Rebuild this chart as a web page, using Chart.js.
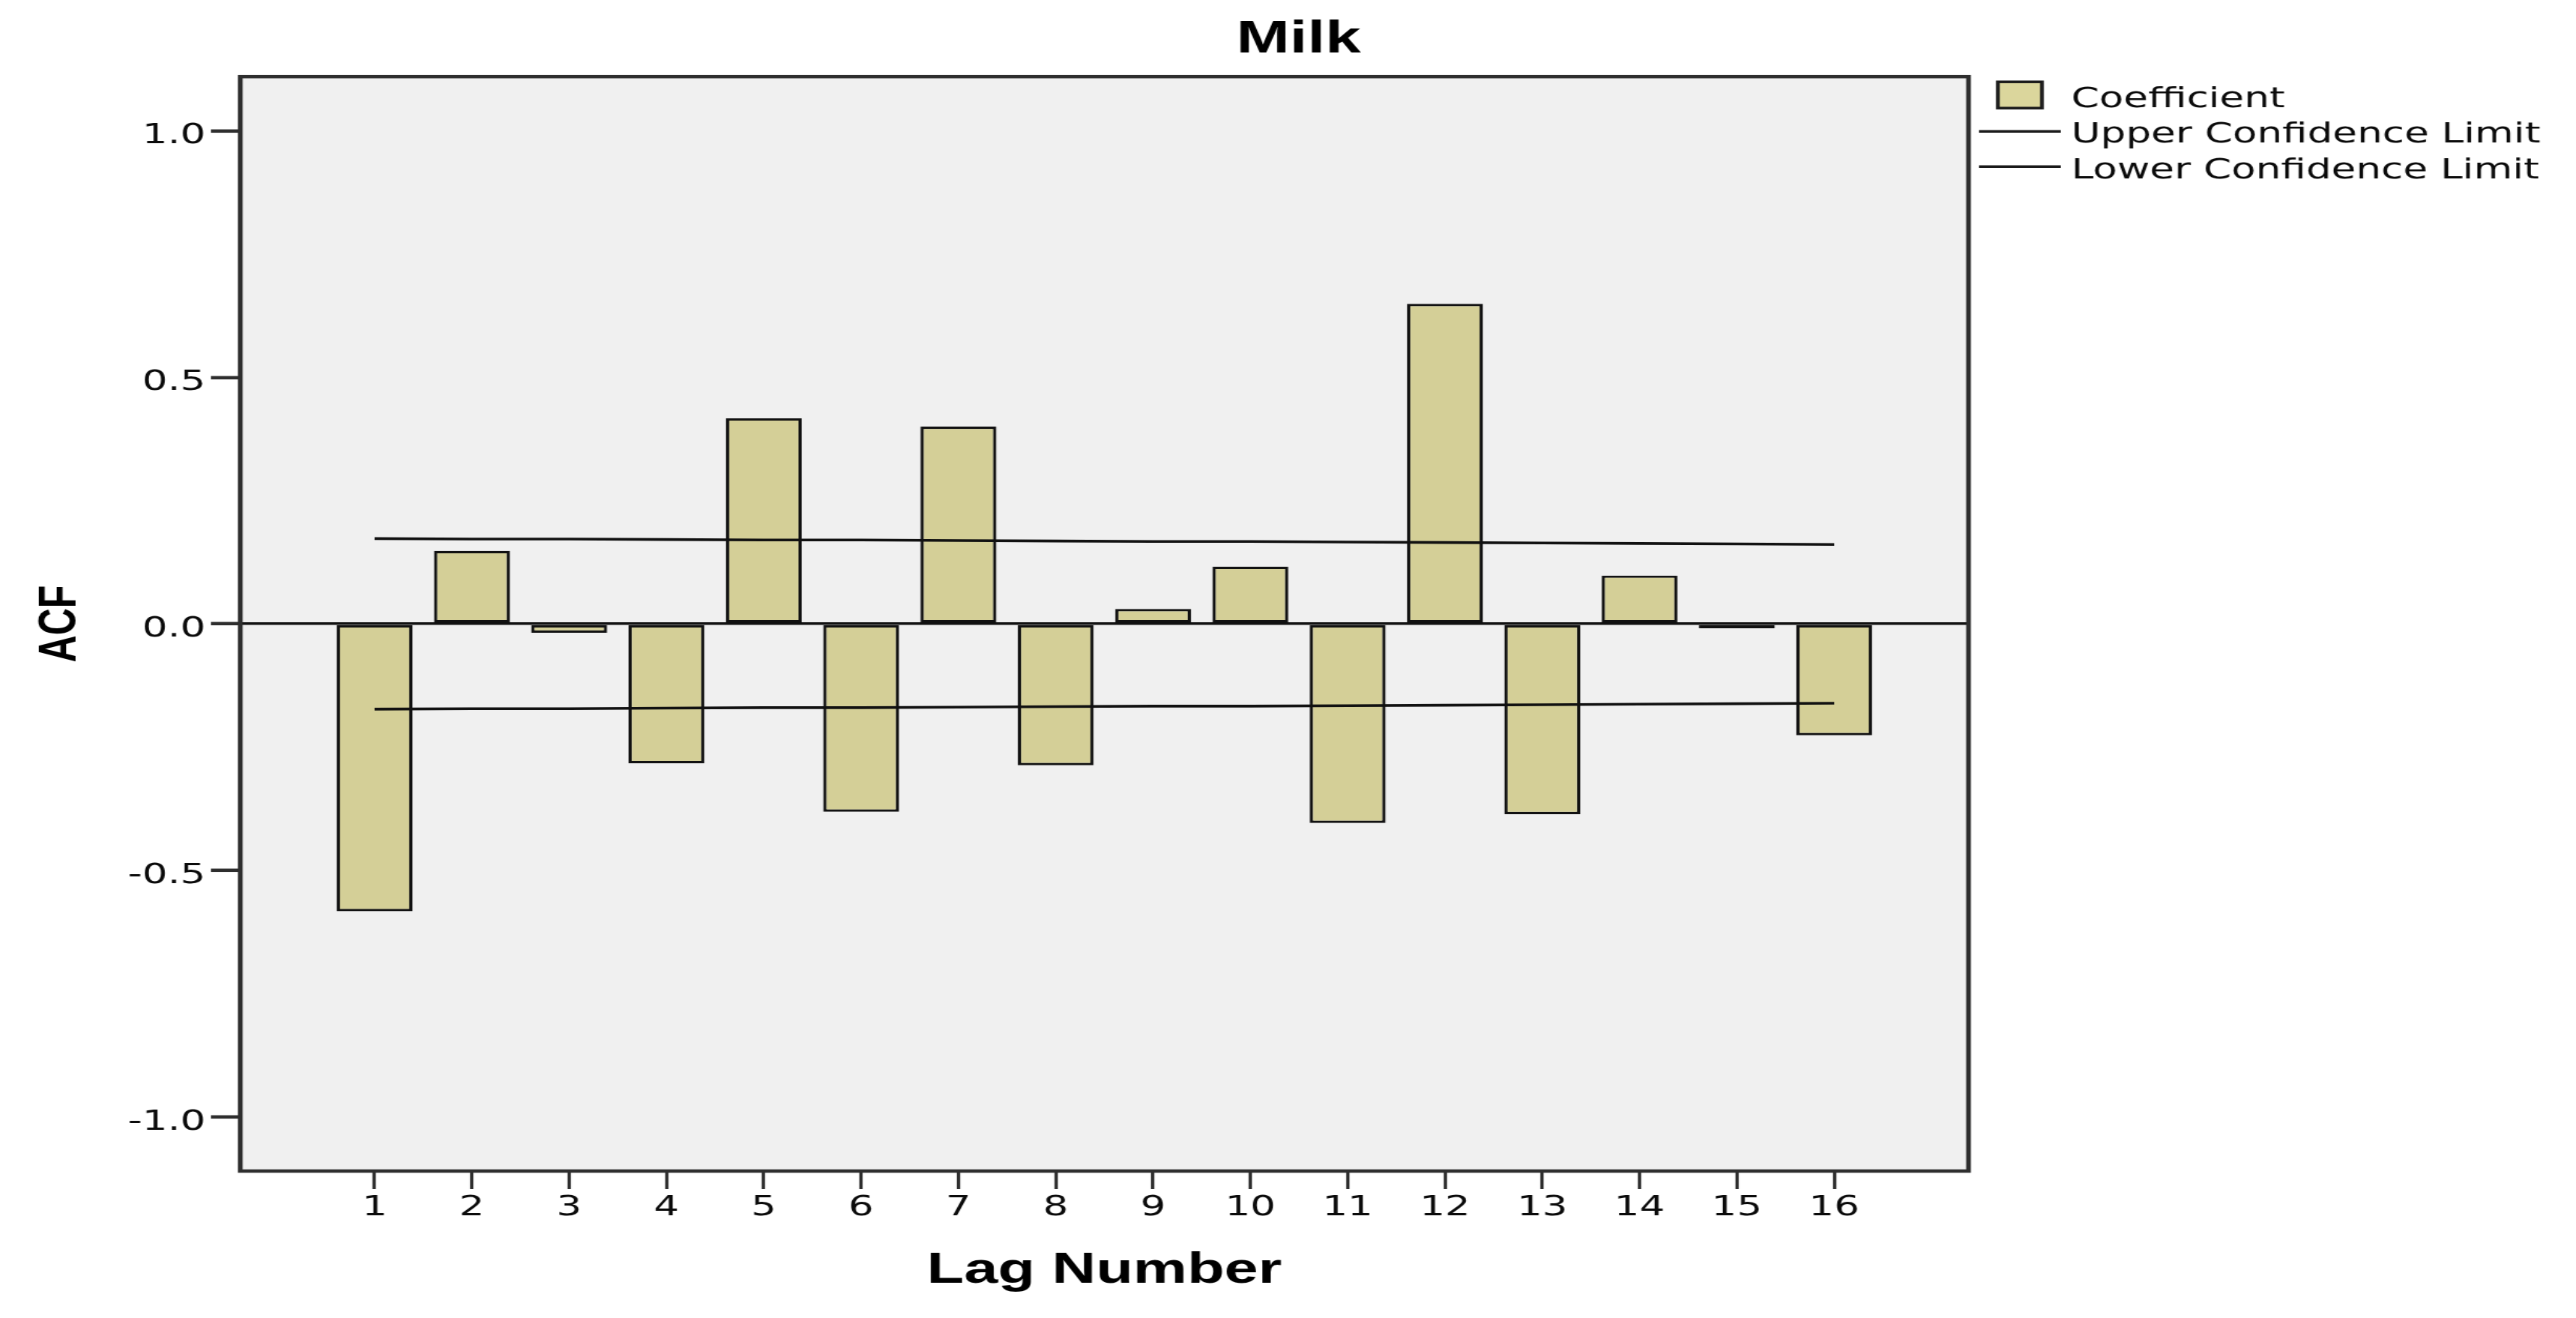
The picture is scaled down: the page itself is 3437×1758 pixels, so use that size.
<!DOCTYPE html>
<html>
<head>
<meta charset="utf-8">
<title>Milk ACF</title>
<script src="https://cdn.jsdelivr.net/npm/chart.js@4.4.1/dist/chart.umd.min.js"></script>
<style>
  html, body { margin: 0; padding: 0; background: #ffffff; }
  #chart-container { width: 3437px; height: 1758px; overflow: hidden; }
</style>
</head>
<body>
<div id="chart-container">
  <!-- drawn narrower and stretched sideways, like the SPSS export -->
  <canvas id="acfChart" width="2455" height="1758" style="display:block;width:3437px;height:1758px;"></canvas>
</div>
<script>
// ACF values
var lagNumbers = [1, 2, 3, 4, 5, 6, 7, 8, 9, 10, 11, 12, 13, 14, 15, 16];
var acfValues = [-0.583, 0.148, -0.018, -0.283, 0.417, -0.381, 0.400, -0.287,
                 0.030, 0.116, -0.404, 0.649, -0.386, 0.098, -0.009, -0.226];
var upperLimit = [0.173, 0.172, 0.172, 0.171, 0.170, 0.170, 0.169, 0.168,
                  0.167, 0.167, 0.166, 0.165, 0.164, 0.163, 0.162, 0.161];
var lowerLimit = [-0.173, -0.172, -0.172, -0.171, -0.170, -0.170, -0.169, -0.168,
                  -0.167, -0.167, -0.166, -0.165, -0.164, -0.163, -0.162, -0.161];
var yTickValues = [-1.0, -0.5, 0.0, 0.5, 1.0];
var yTickLabels = ['-1.0', '-0.5', '0.0', '0.5', '1.0'];

var tickFont = { family: '"DejaVu Sans", sans-serif', size: 38 };
var frameColor = '#2e2e2e';
var inkColor = '#0a0a0a';

// pair each lag with a value
function toPoints(values) {
  return lagNumbers.map(function (lag, i) {
    return { x: lag, y: values[i] };
  });
}

// grey plot background, frame round it and the legend on the right
var spssLook = {
  id: 'spssLook',
  beforeDatasetsDraw: function (chart) {
    var ctx = chart.ctx, a = chart.chartArea;
    ctx.save();
    ctx.globalCompositeOperation = 'destination-over';
    ctx.fillStyle = '#f0f0f0';
    ctx.fillRect(a.left, a.top, a.right - a.left, a.bottom - a.top);
    ctx.restore();
  },
  afterDatasetsDraw: function (chart) {
    var ctx = chart.ctx, a = chart.chartArea;
    ctx.save();
    ctx.strokeStyle = frameColor;
    ctx.lineWidth = 4.5;
    ctx.strokeRect(a.left, a.top, a.right - a.left, a.bottom - a.top);
    ctx.restore();
  },
  afterDraw: function (chart) {
    var ctx = chart.ctx, a = chart.chartArea;
    var ds = chart.data.datasets;
    var textX = a.right + 98;
    ctx.save();
    ctx.font = '38px "DejaVu Sans", sans-serif';
    ctx.textBaseline = 'alphabetic';
    ctx.textAlign = 'left';

    // Coefficient swatch
    ctx.fillStyle = '#dbd69c';
    ctx.fillRect(a.right + 28, a.top + 7, 42, 35);
    ctx.strokeStyle = '#1a1a1a';
    ctx.lineWidth = 3.5;
    ctx.strokeRect(a.right + 28, a.top + 7, 42, 35);
    ctx.fillStyle = inkColor;
    ctx.fillText(ds[0].label, textX, a.top + 41);

    // limit lines
    ctx.lineWidth = 3.5;
    ctx.beginPath();
    ctx.moveTo(a.right + 10, a.top + 73);
    ctx.lineTo(a.right + 88, a.top + 73);
    ctx.moveTo(a.right + 10, a.top + 120);
    ctx.lineTo(a.right + 88, a.top + 120);
    ctx.stroke();
    ctx.fillText(ds[1].label, textX, a.top + 88);
    ctx.fillText(ds[2].label, textX, a.top + 136);
    ctx.restore();
  }
};

var chartData = {
  datasets: [
    {
      type: 'bar',
      label: 'Coefficient',
      data: toPoints(acfValues),
      backgroundColor: '#d4cf97',
      borderColor: '#111111',
      borderWidth: 3.2,
      borderSkipped: false,
      barPercentage: 0.78,
      categoryPercentage: 1.0,
      order: 2
    },
    {
      type: 'line',
      label: 'Upper Confidence Limit',
      data: toPoints(upperLimit),
      borderColor: '#111111',
      borderWidth: 3.6,
      pointRadius: 0,
      fill: false,
      tension: 0,
      order: 1
    },
    {
      type: 'line',
      label: 'Lower Confidence Limit',
      data: toPoints(lowerLimit),
      borderColor: '#111111',
      borderWidth: 3.6,
      pointRadius: 0,
      fill: false,
      tension: 0,
      order: 1
    }
  ]
};

var chartOptions = {
  responsive: false,
  animation: false,
  devicePixelRatio: 1,
  layout: { padding: { left: 20, right: 0, top: 0, bottom: 0 } },
  plugins: {
    legend: { display: false },
    tooltip: { enabled: false },
    title: {
      display: true,
      text: 'Milk',
      color: '#000000',
      font: { family: '"Liberation Sans", Arial, sans-serif', size: 61, weight: 'bold' },
      padding: { top: 17, bottom: 12 }
    }
  },
  scales: {
    x: {
      type: 'linear',
      min: -0.38,
      max: 17.38,
      offset: false,
      afterBuildTicks: function (scale) {
        scale.ticks = lagNumbers.map(function (v) { return { value: v }; });
      },
      afterFit: function (scale) { scale.height = 196; },
      ticks: {
        autoSkip: false,
        maxRotation: 0,
        padding: 2,
        color: inkColor,
        font: tickFont,
        callback: function (value) { return String(value); }
      },
      grid: {
        offset: false,
        drawOnChartArea: false,
        drawTicks: true,
        tickLength: 24,
        tickWidth: 3.2,
        tickColor: frameColor
      },
      border: { display: false },
      title: {
        display: true,
        text: 'Lag Number',
        color: '#000000',
        font: { family: '"Liberation Sans", Arial, sans-serif', size: 58, weight: 'bold' },
        padding: { top: 0, bottom: 28 }
      }
    },
    y: {
      min: -1.11,
      max: 1.11,
      afterBuildTicks: function (scale) {
        scale.ticks = yTickValues.map(function (v) { return { value: v }; });
      },
      afterFit: function (scale) { scale.width = 209; },
      ticks: {
        padding: 5,
        labelOffset: 7,
        color: inkColor,
        font: tickFont,
        callback: function (value) {
          var i = yTickValues.indexOf(value);
          return i >= 0 ? yTickLabels[i] : '';
        }
      },
      grid: {
        drawOnChartArea: true,
        drawTicks: true,
        tickLength: 28,
        tickWidth: 4.5,
        tickColor: frameColor,
        lineWidth: 3.6,
        color: function (ctx) {
          return ctx.tick && ctx.tick.value === 0 ? '#111111' : 'rgba(0,0,0,0)';
        }
      },
      border: { display: false },
      title: {
        display: true,
        text: 'ACF',
        color: '#000000',
        font: { family: '"Liberation Sans", Arial, sans-serif', size: 50, weight: 'bold' },
        padding: { top: 8, bottom: 0 }
      }
    },
    // empty box on the right that keeps room for the legend
    legendSpace: {
      type: 'linear',
      position: 'right',
      display: true,
      afterFit: function (scale) { scale.width = 579; },
      ticks: { display: false },
      grid: { display: false, drawTicks: false },
      border: { display: false }
    }
  }
};

var acfChart = new Chart(document.getElementById('acfChart'), {
  type: 'bar',
  data: chartData,
  options: chartOptions,
  plugins: [spssLook]
});
</script>
</body>
</html>
